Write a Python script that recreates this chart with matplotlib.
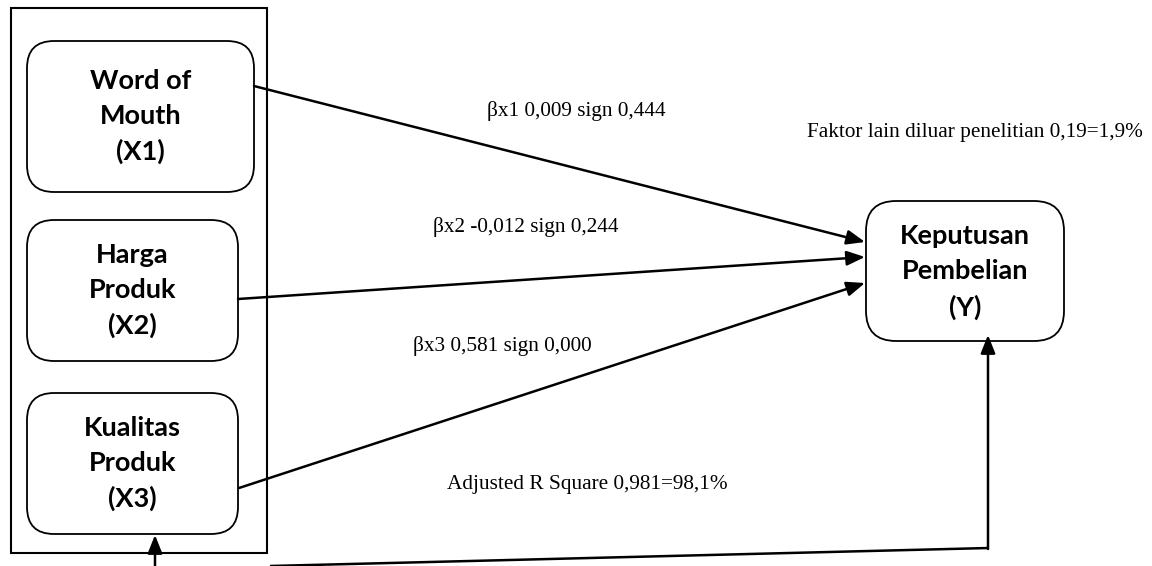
import matplotlib
matplotlib.use("Agg")
import matplotlib.pyplot as plt
from matplotlib.patches import FancyBboxPatch, Rectangle

# variable boxes
box_labels = ["Word of\nMouth\n(X1)", "Harga\nProduk\n(X2)", "Kualitas\nProduk\n(X3)"]
y_label = "Keputusan\nPembelian\n(Y)"

# regression results
coef_names = ["βx1", "βx2", "βx3"]
coef_values = ["0,009", "-0,012", "0,581"]
sign_values = ["0,444", "0,244", "0,000"]
adj_r2 = "0,981=98,1%"
other_factor = "0,19=1,9%"

W, H = 1152, 566
fig = plt.figure(figsize=(W / 100, H / 100), dpi=100)
ax = fig.add_axes([0, 0, 1, 1])
ax.set_xlim(0, W)
ax.set_ylim(H, 0)
ax.axis("off")

LW = 1.8
HEAD = "-|>,head_length=0.55,head_width=0.22"
bold_font = dict(family=["Lato", "DejaVu Sans"], weight="bold", fontsize=19.5,
                 ha="center", va="center", linespacing=1.55)
serif_font = dict(family=["Liberation Serif", "DejaVu Serif"], fontsize=15.3)


def arrow(tip, tail):
    ax.annotate("", xy=tip, xytext=tail,
                arrowprops=dict(arrowstyle=HEAD, mutation_scale=20, lw=LW,
                                color="black", shrinkA=0, shrinkB=0))


# outer frame
ax.add_patch(Rectangle((11, 8), 256, 545, fill=False, lw=1.5, ec="black"))

# left boxes (x0, y0, w, h)
boxes = [(27, 41, 227, 151), (27, 220, 211, 141), (27, 393, 211, 141)]
for (x0, y0, w, h), lab in zip(boxes, box_labels):
    ax.add_patch(FancyBboxPatch((x0, y0), w, h, boxstyle="round,pad=0,rounding_size=27",
                                fill=False, lw=1.3, ec="black"))
    ax.text(x0 + w / 2, y0 + h / 2, lab, **bold_font)

# dependent box
yb = (866, 201, 198, 140)
ax.add_patch(FancyBboxPatch(yb[:2], yb[2], yb[3], boxstyle="round,pad=0,rounding_size=30",
                            fill=False, lw=1.3, ec="black"))
ax.text(yb[0] + yb[2] / 2, yb[1] + yb[3] / 2 + 1, y_label, **bold_font)

# arrows into Y
starts = [(254, 86), (238, 299), (239, 488)]
tips = [(865, 242), (865, 257), (865, 283)]
for s, t in zip(starts, tips):
    arrow(t, s)

# bottom feedback line
ax.plot([270, 989], [566, 548], color="black", lw=LW, solid_capstyle="butt")
arrow((988, 335), (988, 549))
arrow((155, 535), (155, 570))

# coefficient labels
label_pos = [(487, 111), (433, 227), (413, 346)]
for (x, y), n, c, s in zip(label_pos, coef_names, coef_values, sign_values):
    ax.text(x, y, f"{n} {c} sign {s}", ha="left", va="center", **serif_font)

ax.text(1143, 133, f"Faktor lain diluar penelitian {other_factor}", ha="right", va="center", **serif_font)
ax.text(447, 485, f"Adjusted R Square {adj_r2}", ha="left", va="center", **serif_font)

fig.savefig("out.png", dpi=100)
